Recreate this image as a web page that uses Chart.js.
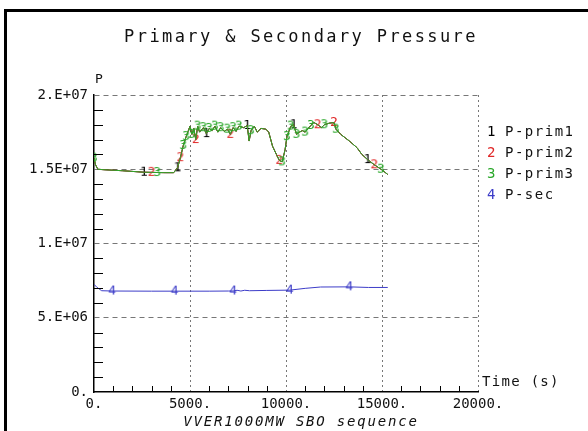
<!DOCTYPE html>
<html>
<head>
<meta charset="utf-8">
<title>Primary &amp; Secondary Pressure</title>
<script src="https://cdn.jsdelivr.net/npm/chart.js@4.4.1/dist/chart.umd.min.js"></script>
<style>
html, body { margin: 0; padding: 0; background: #fff; overflow: hidden; }
#frame { position: absolute; left: 4px; top: 9px; width: 700px; height: 600px; border: 3px solid #000; }
#chart { position: absolute; left: 0; top: 0; }
</style>
</head>
<body>
<div id="frame"></div>
<canvas id="chart" width="588" height="431"></canvas>
<script>
var chartTitle = 'Primary & Secondary Pressure';
var xTitle = 'VVER1000MW SBO sequence';
var yName = 'P';
var xName = 'Time (s)';
var seriesNames = ['P-prim1', 'P-prim2', 'P-prim3', 'P-sec'];
var seriesDigits = ['1', '2', '3', '4'];
var seriesColors = ['#000000', '#e02828', '#2aa82a', '#3c3cc8'];

var xTickValues = [0, 5000, 10000, 15000, 20000];
var xTickText = ['0.', '5000.', '10000.', '15000.', '20000.'];
var yTickValues = [0, 5e6, 1e7, 1.5e7, 2e7];
var yTickText = ['0.', '5.E+06', '1.E+07', '1.5E+07', '2.E+07'];

// primary pressure (the three primary curves lie on top of each other)
var timePrim = [0, 80, 200, 500, 1500, 2600, 3000, 3300, 3700, 4150,
	4350, 4500, 4650, 4800, 4900, 5000, 5100, 5200, 5300, 5400,
	5500, 5700, 5850, 6000, 6150, 6300, 6450, 6600, 6780, 6950,
	7100, 7250, 7400, 7550, 7800, 7980, 8080, 8180, 8350, 8500,
	8700, 8950, 9100, 9300, 9500, 9650, 9800, 9950, 10050, 10150,
	10250, 10400, 10550, 10700, 10850, 11000, 11150, 11300, 11450, 11650,
	11850, 12000, 12250, 12500, 12600, 12850, 13300, 13700, 13950, 14250,
	14600, 14950, 15300];
var pPrim = [1.575e7, 1.53e7, 1.50e7, 1.497e7, 1.49e7, 1.48e7, 1.479e7, 1.478e7, 1.477e7, 1.477e7,
	1.51e7, 1.578e7, 1.66e7, 1.72e7, 1.755e7, 1.79e7, 1.735e7, 1.775e7, 1.70e7, 1.79e7,
	1.75e7, 1.78e7, 1.74e7, 1.775e7, 1.76e7, 1.79e7, 1.75e7, 1.78e7, 1.755e7, 1.77e7,
	1.735e7, 1.78e7, 1.755e7, 1.79e7, 1.78e7, 1.795e7, 1.69e7, 1.76e7, 1.79e7, 1.75e7,
	1.775e7, 1.77e7, 1.75e7, 1.655e7, 1.60e7, 1.56e7, 1.55e7, 1.63e7, 1.72e7, 1.755e7,
	1.79e7, 1.80e7, 1.735e7, 1.75e7, 1.76e7, 1.75e7, 1.775e7, 1.795e7, 1.815e7, 1.80e7,
	1.78e7, 1.80e7, 1.81e7, 1.815e7, 1.77e7, 1.735e7, 1.69e7, 1.645e7, 1.60e7, 1.565e7,
	1.53e7, 1.50e7, 1.465e7];

// secondary pressure
var timeSec = [0, 150, 400, 950, 3000, 4200, 6000, 7000, 7250, 7450,
	7650, 7850, 8100, 9000, 10200, 11000, 11800, 13300, 14300, 15300];
var pSec = [7.25e6, 7.05e6, 6.82e6, 6.80e6, 6.79e6, 6.79e6, 6.79e6, 6.80e6, 6.80e6, 6.85e6,
	6.80e6, 6.85e6, 6.82e6, 6.84e6, 6.86e6, 6.98e6, 7.07e6, 7.08e6, 7.04e6, 7.04e6];

// times where the curve number is printed on the curve
var mark1 = [2600, 4350, 5850, 7980, 10400, 14250];
var mark2 = [3000, 4500, 5300, 7100, 9650, 11650, 12500, 14600];
var mark3 = [0, 3300, 4650, 4800, 5100, 5400, 5700, 6000, 6300, 6600, 6950, 7250, 7550,
	8180, 9800, 10050, 10250, 10550, 11000, 11300, 12000, 12600, 14950];
var mark4 = [950, 4200, 7250, 10200, 13300];

var monoFont = '"DejaVu Sans Mono", "Liberation Mono", monospace';

function digitMark(d, color) {
	var c = document.createElement('canvas');
	c.width = 10; c.height = 15;
	var g = c.getContext('2d');
	g.font = '13px ' + monoFont;
	g.fillStyle = color;
	g.textAlign = 'center';
	g.textBaseline = 'middle';
	g.fillText(d, 5, 8);
	return c;
}

function pairs(xs, ys) {
	return xs.map(function (x, i) { return {x: x, y: ys[i]}; });
}

function lineSet(i, xs, ys, marks, order) {
	var img = digitMark(seriesDigits[i], seriesColors[i]);
	return {
		label: seriesNames[i],
		data: pairs(xs, ys),
		borderColor: seriesColors[i],
		backgroundColor: seriesColors[i],
		borderWidth: 1,
		tension: 0,
		order: order,
		pointStyle: img,
		pointRadius: function (c) { return marks.indexOf(xs[c.dataIndex]) >= 0 ? 3 : 0; },
		pointHoverRadius: 0
	};
}

var overlay = {
	id: 'overlay',
	afterDatasetsDraw: function (chart) {
		var ctx = chart.ctx, xs = chart.scales.x, ys = chart.scales.y, a = chart.chartArea;
		ctx.save();
		ctx.strokeStyle = '#000';
		ctx.lineWidth = 1;
		ctx.beginPath();
		ys.ticks.forEach(function (t) {
			if (yTickValues.indexOf(t.value) >= 0) return;
			var py = Math.round(ys.getPixelForValue(t.value)) + 0.5;
			ctx.moveTo(a.left, py); ctx.lineTo(a.left + 9, py);
		});
		xs.ticks.forEach(function (t) {
			if (xTickValues.indexOf(t.value) >= 0) return;
			var px = Math.round(xs.getPixelForValue(t.value)) + 0.5;
			ctx.moveTo(px, a.bottom); ctx.lineTo(px, a.bottom - 6);
		});
		ctx.stroke();
		ctx.restore();
	},
	afterDraw: function (chart) {
		var ctx = chart.ctx;
		ctx.save();
		ctx.fillStyle = '#111';
		ctx.textBaseline = 'middle';

		ctx.font = '17px ' + monoFont;
		ctx.letterSpacing = '2.4px';
		ctx.textAlign = 'center';
		ctx.fillText(chartTitle, 301, 38);

		ctx.font = 'italic 14px ' + monoFont;
		ctx.letterSpacing = '1.8px';
		ctx.fillText(xTitle, 301, 422);

		ctx.textAlign = 'left';
		ctx.font = '13px ' + monoFont;
		ctx.letterSpacing = '0px';
		ctx.fillText(yName, 95, 80);

		ctx.font = '14px ' + monoFont;
		ctx.letterSpacing = '1.3px';
		ctx.fillText(xName, 482, 382);

		ctx.letterSpacing = '1.5px';
		seriesNames.forEach(function (n, i) {
			var y = 132 + i * 21;
			ctx.fillStyle = seriesColors[i];
			ctx.fillText(seriesDigits[i], 487, y);
			ctx.fillStyle = '#111';
			ctx.fillText(n, 505, y);
		});
		ctx.restore();
	}
};

var chart = new Chart(document.getElementById('chart').getContext('2d'), {
	type: 'line',
	data: {
		datasets: [
			lineSet(0, timePrim, pPrim, mark1, 2),
			lineSet(1, timePrim, pPrim, mark2, 1),
			lineSet(2, timePrim, pPrim, mark3, 0),
			lineSet(3, timeSec, pSec, mark4, 3)
		]
	},
	options: {
		responsive: false,
		animation: false,
		events: [],
		layout: {padding: {top: 95, right: 110, bottom: 0, left: 0}},
		plugins: {
			legend: {display: false},
			title: {display: false},
			tooltip: {enabled: false}
		},
		scales: {
			x: {
				type: 'linear',
				min: 0,
				max: 20000,
				afterFit: function (s) { s.height = 39; },
				ticks: {
					stepSize: 1000,
					autoSkip: false,
					maxRotation: 0,
					padding: 4,
					color: '#111',
					font: {family: monoFont, size: 14},
					callback: function (v) {
						var i = xTickValues.indexOf(v);
						return i >= 0 ? xTickText[i] : '';
					}
				},
				grid: {
					drawTicks: false,
					lineWidth: 1,
					color: function (c) {
						return c.tick && xTickValues.indexOf(c.tick.value) > 0 ? '#777' : 'rgba(0,0,0,0)';
					}
				},
				border: {display: true, color: '#000', width: 1.5, dash: [2, 3]}
			},
			y: {
				type: 'linear',
				min: 0,
				max: 2e7,
				afterFit: function (s) { s.width = 94; },
				ticks: {
					stepSize: 1e6,
					autoSkip: false,
					padding: 6,
					color: '#111',
					font: {family: monoFont, size: 14},
					callback: function (v) {
						var i = yTickValues.indexOf(v);
						return i >= 0 ? yTickText[i] : '';
					}
				},
				grid: {
					drawTicks: false,
					lineWidth: 1,
					color: function (c) {
						return c.tick && yTickValues.indexOf(c.tick.value) > 0 ? '#777' : 'rgba(0,0,0,0)';
					}
				},
				border: {display: true, color: '#000', width: 1.5, dash: [5, 4]}
			}
		}
	},
	plugins: [overlay]
});
</script>
</body>
</html>
